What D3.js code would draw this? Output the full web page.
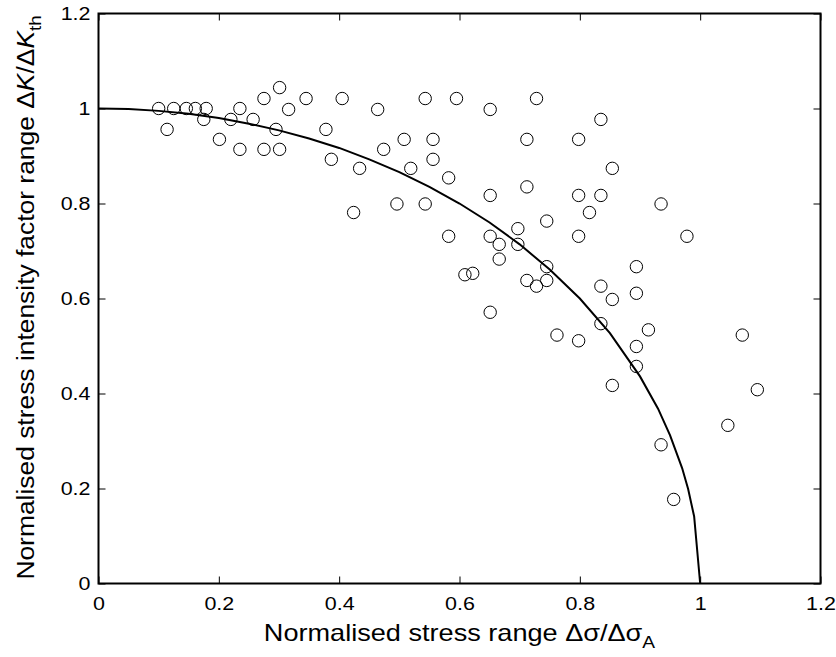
<!DOCTYPE html>
<html>
<head>
<meta charset="utf-8">
<script src="https://cdn.jsdelivr.net/npm/d3@7"></script>
<style>
  body { margin: 0; background: #fff; }
  text { font-family: "Liberation Sans", Arial, sans-serif; fill: #000; }
</style>
</head>
<body>
<div id="wrapper"></div>
<script>
// measured points (normalised stress range, normalised SIF range)
const stressRatio = [
  0.100, 0.125, 0.146, 0.161, 0.179, 0.114, 0.175, 0.201, 0.220, 0.235,
  0.235, 0.257, 0.275, 0.275, 0.301, 0.295, 0.301, 0.316, 0.345, 0.378,
  0.387, 0.434, 0.405, 0.424, 0.464, 0.474, 0.496, 0.508, 0.519, 0.543,
  0.543, 0.556, 0.556, 0.595, 0.651, 0.728, 0.835, 0.712, 0.798, 0.854,
  0.582, 0.651, 0.712, 0.798, 0.835, 0.816, 0.935, 0.745, 0.582, 0.651,
  0.666, 0.697, 0.697, 0.798, 0.978, 0.666, 0.609, 0.622, 0.745, 0.894,
  0.712, 0.728, 0.745, 0.835, 0.894, 0.854, 0.651, 0.835, 0.914, 0.762,
  0.798, 0.894, 1.070, 0.894, 0.854, 1.095, 1.046, 0.935, 0.956
]
const sifRatio = [
  1.000, 1.000, 1.000, 1.000, 1.000, 0.956, 0.977, 0.935, 0.977, 1.000,
  0.914, 0.977, 1.021, 0.914, 1.044, 0.956, 0.914, 0.998, 1.021, 0.956,
  0.893, 0.874, 1.021, 0.781, 0.998, 0.914, 0.799, 0.935, 0.874, 1.021,
  0.799, 0.935, 0.893, 1.021, 0.998, 1.021, 0.977, 0.935, 0.935, 0.874,
  0.854, 0.817, 0.835, 0.817, 0.817, 0.781, 0.799, 0.763, 0.731, 0.731,
  0.714, 0.747, 0.714, 0.731, 0.731, 0.683, 0.650, 0.653, 0.667, 0.667,
  0.638, 0.626, 0.638, 0.626, 0.611, 0.598, 0.571, 0.547, 0.534, 0.523,
  0.511, 0.499, 0.523, 0.457, 0.417, 0.408, 0.333, 0.292, 0.177
]

// threshold curve
const curveX = [0, 0.05, 0.1, 0.15, 0.2, 0.25, 0.3, 0.35, 0.4, 0.45, 0.5, 0.55,
  0.6, 0.65, 0.7, 0.75, 0.8, 0.85, 0.9, 0.93, 0.95, 0.97, 0.98, 0.99, 1.0]
const curveY = [1.0, 0.999, 0.995, 0.989, 0.98, 0.968, 0.954, 0.937, 0.917, 0.893, 0.866, 0.835,
  0.8, 0.76, 0.714, 0.661, 0.6, 0.527, 0.436, 0.368, 0.312, 0.243, 0.199, 0.141, 0]

const ticks = [0, 0.2, 0.4, 0.6, 0.8, 1, 1.2]
const tickLabels = ["0", "0.2", "0.4", "0.6", "0.8", "1", "1.2"]

function drawChart() {
  let dimensions = {
    width: 836,
    height: 657,
    margin: { top: 13.5, right: 15.5, bottom: 73.5, left: 98.5 },
  }
  dimensions.boundedWidth = dimensions.width - dimensions.margin.left - dimensions.margin.right
  dimensions.boundedHeight = dimensions.height - dimensions.margin.top - dimensions.margin.bottom

  const stretch = 1.13

  const wrapper = d3.select("#wrapper")
    .append("svg")
    .attr("width", dimensions.width)
    .attr("height", dimensions.height)

  const bounds = wrapper.append("g")
    .attr("transform", `translate(${dimensions.margin.left}, ${dimensions.margin.top})`)

  const xScale = d3.scaleLinear()
    .domain([0, 1.2])
    .range([0, dimensions.boundedWidth])
  const yScale = d3.scaleLinear()
    .domain([0, 1.2])
    .range([dimensions.boundedHeight, 0])

  const fmt = d => tickLabels[ticks.indexOf(d)]

  // axes, inward ticks on all four sides
  const styleAxis = (g) => {
    g.select(".domain").remove()
    g.selectAll(".tick line").attr("stroke", "#000").attr("stroke-width", 1)
    g.selectAll(".tick text")
      .attr("font-size", 19)
      .attr("font-family", "'Liberation Sans', Arial, sans-serif")
      .attr("fill", "#000")
  }

  bounds.append("g")
    .attr("transform", `translate(0, ${dimensions.boundedHeight})`)
    .call(d3.axisBottom(xScale).tickValues(ticks).tickFormat(fmt)
      .tickSizeInner(-7).tickSizeOuter(0).tickPadding(13))
    .call(styleAxis)
    .call(g => g.selectAll(".tick text").attr("transform", `scale(${stretch},1)`))

  bounds.append("g")
    .call(d3.axisTop(xScale).tickValues(ticks).tickFormat("")
      .tickSizeInner(-7).tickSizeOuter(0))
    .call(styleAxis)

  bounds.append("g")
    .call(d3.axisLeft(yScale).tickValues(ticks).tickFormat(fmt)
      .tickSizeInner(-7).tickSizeOuter(0).tickPadding(8 / stretch))
    .call(styleAxis)
    .call(g => g.selectAll(".tick text").attr("transform", `scale(${stretch},1)`))

  bounds.append("g")
    .attr("transform", `translate(${dimensions.boundedWidth}, 0)`)
    .call(d3.axisRight(yScale).tickValues(ticks).tickFormat("")
      .tickSizeInner(-7).tickSizeOuter(0))
    .call(styleAxis)

  // axes box
  bounds.append("rect")
    .attr("width", dimensions.boundedWidth)
    .attr("height", dimensions.boundedHeight)
    .attr("fill", "none")
    .attr("stroke", "#000")
    .attr("stroke-width", 2)

  // threshold curve
  const curvePoints = d3.zip(curveX, curveY)
  const line = d3.line()
    .x(d => xScale(d[0]))
    .y(d => yScale(d[1]))

  bounds.append("path")
    .datum(curvePoints)
    .attr("d", line)
    .attr("fill", "none")
    .attr("stroke", "#000")
    .attr("stroke-width", 2)

  // data points
  const points = d3.zip(stressRatio, sifRatio)
  bounds.append("g")
    .selectAll("circle")
    .data(points)
    .join("circle")
    .attr("cx", d => xScale(d[0]))
    .attr("cy", d => yScale(d[1]))
    .attr("r", 6.2)
    .attr("fill", "none")
    .attr("stroke", "#000")
    .attr("stroke-width", 1)

  // x axis title
  const xTitle = wrapper.append("g")
    .attr("transform", `translate(${dimensions.margin.left + dimensions.boundedWidth / 2}, 641) scale(${stretch},1)`)
    .append("text")
    .attr("text-anchor", "middle")
    .attr("font-size", 24)
  xTitle.append("tspan").text("Normalised stress range Δσ/Δσ")
  xTitle.append("tspan").attr("font-size", 17).attr("dy", "0.4em").text("A")

  // y axis title
  const yTitle = wrapper.append("g")
    .attr("transform", `translate(34, ${dimensions.margin.top + dimensions.boundedHeight / 2 - 1}) rotate(-90) scale(1.1,1)`)
    .append("text")
    .attr("text-anchor", "middle")
    .attr("font-size", 24)
  yTitle.append("tspan").text("Normalised stress intensity factor range Δ")
  yTitle.append("tspan").attr("font-style", "italic").text("K")
  yTitle.append("tspan").text("/Δ")
  yTitle.append("tspan").attr("font-style", "italic").text("K")
  yTitle.append("tspan").attr("font-size", 17).attr("dy", "0.4em").text("th")
}

drawChart()
</script>
</body>
</html>
